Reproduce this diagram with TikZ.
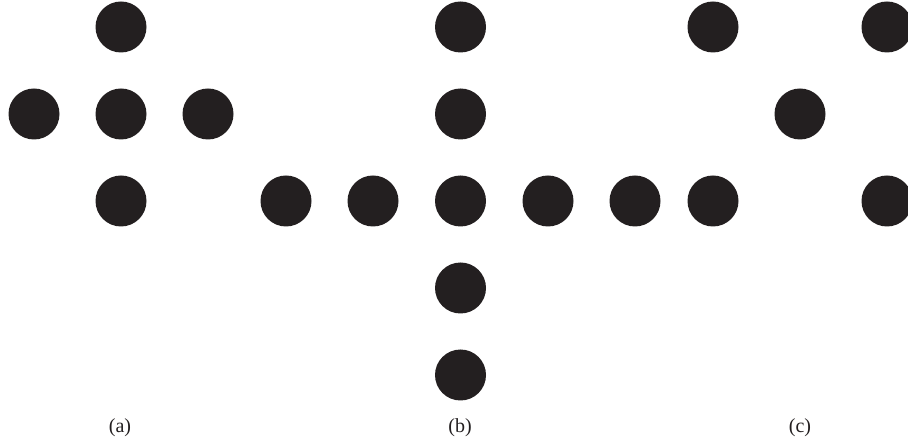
\documentclass[tikz,border=0pt]{standalone}
\usepackage{fontspec}
\setmainfont{Liberation Serif}
\definecolor{dotc}{HTML}{231F20}
\begin{document}
\begin{tikzpicture}[x=1pt,y=-1pt,
  dot/.style={circle,fill=dotc,draw=none,minimum size=51pt,inner sep=0pt},
  lab/.style={anchor=base,font=\fontsize{20}{23}\selectfont,text=dotc,inner sep=0pt}]
\useasboundingbox (0,0) rectangle (908,443);
\begin{scope}
\clip (0,0) rectangle (908,443);
% (a)
\node[dot] (a1) at (121,27) {};
\node[dot] (a2) at (34,114) {};
\node[dot] (a3) at (121,114) {};
\node[dot] (a4) at (208,114) {};
\node[dot] (a5) at (121,201) {};
% (b)
\node[dot] (b1) at (460.5,27) {};
\node[dot] (b2) at (460.5,114) {};
\node[dot] (b3) at (460.5,201) {};
\node[dot] (b4) at (460.5,288) {};
\node[dot] (b5) at (460.5,375) {};
\node[dot] (b6) at (286,201) {};
\node[dot] (b7) at (373,201) {};
\node[dot] (b8) at (548,201) {};
\node[dot] (b9) at (635,201) {};
% (c)
\node[dot] (c1) at (713,27) {};
\node[dot] (c2) at (800,114) {};
\node[dot] (c3) at (713,201) {};
\node[dot] (c4) at (887,27) {};
\node[dot] (c5) at (887,201) {};
\end{scope}
\node[lab] (la) at (120,432.5) {(a)};
\node[lab] (lb) at (460,432.5) {(b)};
\node[lab] (lc) at (800,432.5) {(c)};
\end{tikzpicture}
\end{document}
